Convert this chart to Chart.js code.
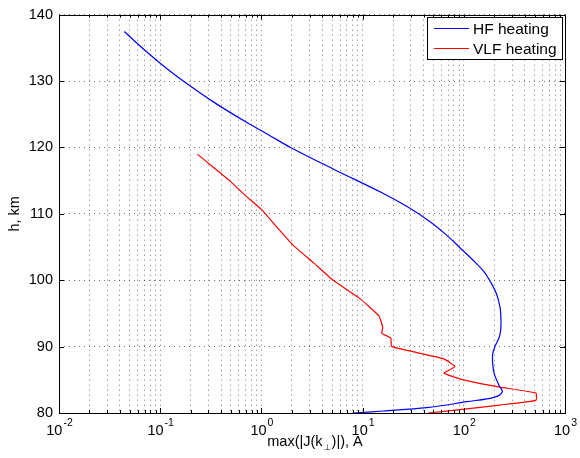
<!DOCTYPE html>
<html>
<head>
<meta charset="utf-8">
<script src="https://cdn.jsdelivr.net/npm/chart.js@4.4.1/dist/chart.umd.min.js"></script>
<style>
  html, body { margin: 0; padding: 0; background: #fff; }
  #wrap { width: 580px; height: 458px; position: relative; }
</style>
</head>
<body>
<div id="wrap"><canvas id="jChart"></canvas></div>
<script>
// HF heating curve: altitude (km) and max|J| (A)
const hfH = [137.46, 135.06, 132.51, 130.01, 126.83, 123.83, 121.93, 120.04, 116.65, 113.25, 111.1, 108.9, 106.95, 104.9,
             103.2, 101.4, 99.6, 97.9, 95.9, 94.0, 92.4, 91.4, 90.0, 88.9, 87.4, 85.9, 84.1, 83.2, 82.4, 81.7, 80.8, 80.3, 80.0];
const hfJ = [0.0442, 0.0656, 0.1035, 0.169, 0.338, 0.705, 1.17, 1.92, 5.3, 15.2, 27.5, 45.7, 65.9, 91.6,
             120, 156, 186, 211, 228, 233, 231, 224, 203, 193, 193, 200, 224, 240, 203, 107, 43, 16, 8.0];

// VLF heating curve
const vlfH = [119.0, 117.1, 115.0, 112.75, 110.6, 107.96, 105.37, 102.57, 99.99, 97.34, 94.64, 92.89, 91.99, 91.3, 90.0,
              88.2, 87.0, 86.0, 85.0, 83.9, 83.0, 81.9, 81.2, 80.5, 80.0];
const vlfJ = [0.233, 0.329, 0.484, 0.697, 1.01, 1.43, 2.03, 3.31, 5.13, 9.2, 14.5, 15.8, 15.5, 19.0, 19.4,
              62.8, 81.8, 63.7, 98.9, 228, 516, 516, 228, 91.6, 44.6];

const seriesLabels = ['HF heating', 'VLF heating'];
const yTicks = [80, 90, 100, 110, 120, 130, 140];
const xTickValues = [0.01, 0.1, 1, 10, 100, 1000];
const xTickExps = ['-2', '-1', '0', '1', '2', '3'];
const xTitle = ['max(|J(k', '\u22A5', ')|), A'];
const yTitle = 'h, km';

const FONT = '"Liberation Sans", Arial, Helvetica, sans-serif';

// grid positions 1..9 x 10^n on the log axis
let xGrid = [];
for (let i = 0; i < xTickValues.length - 1; i++) {
    for (let m = 1; m <= 9; m++) {
        xGrid.push(+(m * xTickValues[i]).toPrecision(6));
    }
}
xGrid.push(xTickValues[xTickValues.length - 1]);

const framePlugin = {
    id: 'framePlugin',
    afterDraw(chart) {
        const ctx = chart.ctx;
        const a = chart.chartArea;
        const xs = chart.scales.x;
        const ys = chart.scales.y;
        ctx.save();

        // inward tick marks
        ctx.strokeStyle = '#000';
        ctx.lineWidth = 1;
        ctx.beginPath();
        xGrid.forEach(v => {
            const px = Math.round(xs.getPixelForValue(v)) + 0.5;
            const len = xTickValues.includes(v) ? 5 : 3;
            ctx.moveTo(px, a.bottom); ctx.lineTo(px, a.bottom - len);
            ctx.moveTo(px, a.top); ctx.lineTo(px, a.top + len);
        });
        yTicks.forEach(v => {
            const py = Math.round(ys.getPixelForValue(v)) + 0.5;
            ctx.moveTo(a.left, py); ctx.lineTo(a.left + 5, py);
            ctx.moveTo(a.right, py); ctx.lineTo(a.right - 5, py);
        });
        ctx.stroke();

        // frame
        ctx.strokeRect(Math.round(a.left) + 0.5, Math.round(a.top) + 0.5,
            Math.round(a.right - a.left), Math.round(a.bottom - a.top));

        // x tick labels with exponents
        ctx.fillStyle = '#000';
        ctx.textBaseline = 'alphabetic';
        ctx.textAlign = 'left';
        xTickValues.forEach((v, i) => {
            const px = xs.getPixelForValue(v);
            ctx.font = '14.5px ' + FONT;
            const wb = ctx.measureText('10').width;
            ctx.font = '10.5px ' + FONT;
            const we = ctx.measureText(xTickExps[i]).width;
            const x0 = px - (wb + we) / 2;
            ctx.font = '14.5px ' + FONT;
            ctx.fillText('10', x0, 435);
            ctx.font = '10.5px ' + FONT;
            ctx.fillText(xTickExps[i], x0 + wb + 1, 426);
        });

        // x axis title with subscript
        ctx.font = '14.5px ' + FONT;
        const w1 = ctx.measureText(xTitle[0]).width;
        const w3 = ctx.measureText(xTitle[2]).width;
        ctx.font = '8px ' + FONT;
        const w2 = ctx.measureText(xTitle[1]).width + 2;
        let tx = (a.left + a.right) / 2 + 3 - (w1 + w2 + w3) / 2;
        ctx.font = '14.5px ' + FONT;
        ctx.fillText(xTitle[0], tx, 446);
        ctx.font = '8px ' + FONT;
        ctx.fillText(xTitle[1], tx + w1 + 1, 450);
        ctx.font = '14.5px ' + FONT;
        ctx.fillText(xTitle[2], tx + w1 + w2, 446);

        // y axis title
        ctx.save();
        ctx.translate(19, (a.top + a.bottom) / 2);
        ctx.rotate(-Math.PI / 2);
        ctx.textAlign = 'center';
        ctx.font = '14.5px ' + FONT;
        ctx.fillText(yTitle, 0, 0);
        ctx.restore();

        // legend inside plot
        const lx = 427.5, ly = 17.5, lw = 135, lh = 42;
        ctx.fillStyle = '#fff';
        ctx.fillRect(lx, ly, lw, lh);
        ctx.strokeStyle = '#000';
        ctx.strokeRect(lx, ly, lw, lh);
        chart.data.datasets.forEach((ds, i) => {
            const yy = 28.5 + i * 20;
            ctx.strokeStyle = ds.borderColor;
            ctx.lineWidth = 1.2;
            ctx.beginPath();
            ctx.moveTo(434, yy); ctx.lineTo(469, yy);
            ctx.stroke();
            ctx.fillStyle = '#000';
            ctx.font = '15.5px ' + FONT;
            ctx.textAlign = 'left';
            ctx.textBaseline = 'middle';
            ctx.fillText(ds.label, 473, yy + 1);
        });
        ctx.restore();
    }
};

const config = {
    type: 'scatter',
    data: {
        datasets: [
            {
                label: seriesLabels[0],
                data: hfH.map((h, i) => ({ x: hfJ[i], y: h })),
                borderColor: 'rgb(0, 0, 255)',
                borderWidth: 1.2,
                showLine: true,
                pointRadius: 0,
                tension: 0.35,
            },
            {
                label: seriesLabels[1],
                data: vlfH.map((h, i) => ({ x: vlfJ[i], y: h })),
                borderColor: 'rgb(255, 0, 0)',
                borderWidth: 1.2,
                showLine: true,
                pointRadius: 0,
                tension: 0.12,
            },
        ],
    },
    options: {
        responsive: true,
        maintainAspectRatio: false,
        animation: false,
        layout: { padding: { left: 0, right: 15, top: 12, bottom: 0 } },
        plugins: {
            legend: { display: false },
            tooltip: { enabled: false },
        },
        scales: {
            x: {
                type: 'logarithmic',
                min: xTickValues[0],
                max: xTickValues[xTickValues.length - 1],
                afterBuildTicks: (scale) => {
                    scale.ticks = xGrid.map(v => ({ value: v }));
                },
                afterFit: (scale) => { scale.height = 45; },
                ticks: { display: false, autoSkip: false },
                grid: { color: 'rgba(0,0,0,0.55)', lineWidth: 1, drawTicks: false },
                border: { display: false, dash: [1, 4] },
            },
            y: {
                min: yTicks[0],
                max: yTicks[yTicks.length - 1],
                afterBuildTicks: (scale) => {
                    scale.ticks = yTicks.map(v => ({ value: v }));
                },
                afterFit: (scale) => { scale.width = 59; },
                ticks: {
                    color: '#000',
                    padding: 6,
                    font: { family: FONT, size: 14.5 },
                },
                grid: { color: 'rgba(0,0,0,0.55)', lineWidth: 1, drawTicks: false },
                border: { display: false, dash: [1, 4] },
            },
        },
    },
    plugins: [framePlugin],
};

const jChart = new Chart(document.getElementById('jChart'), config);
</script>
</body>
</html>
